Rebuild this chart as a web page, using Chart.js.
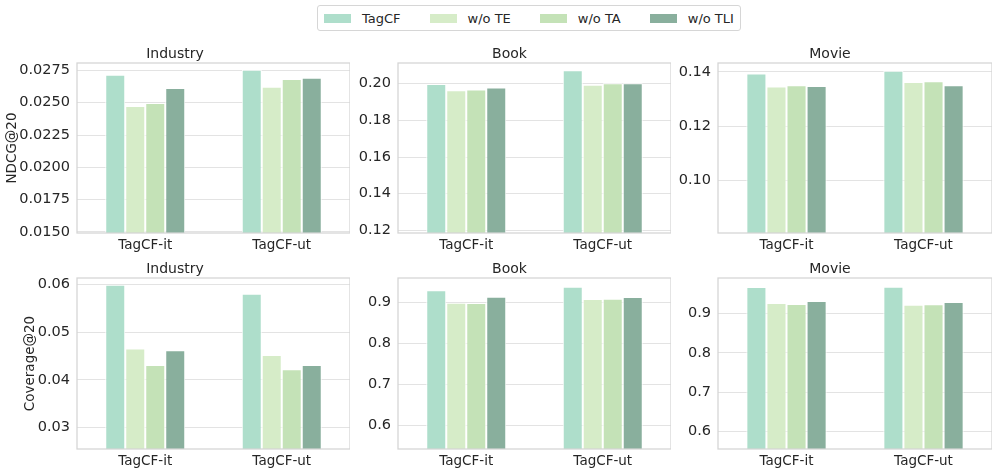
<!DOCTYPE html>
<html>
<head>
<meta charset="utf-8">
<script src="https://cdn.jsdelivr.net/npm/chart.js@4.4.1/dist/chart.umd.min.js"></script>
<style>
  body { margin: 0; background: #fff; font-family: "DejaVu Sans", sans-serif; }
  #wrap { position: relative; width: 997px; height: 476px; overflow: hidden; }
  .panel { position: absolute; }
  #legend { position: absolute; left: 317px; top: 5px; height: 24px; border: 1px solid #d6d6d6; border-radius: 3px;
            display: flex; align-items: center; padding: 0 6px 0 6px; font-size: 13px; color: #262626; }
  .item { display: flex; align-items: center; margin-right: 29px; }
  .item:last-child { margin-right: 0; }
  .patch { width: 27px; height: 9px; margin-right: 11px; }
</style>
</head>
<body>
<div id="wrap">
  <div id="legend"></div>
</div>
<script>
// data
const categories = ['TagCF-it', 'TagCF-ut'];
const seriesNames = ['TagCF', 'w/o TE', 'w/o TA', 'w/o TLI'];
const seriesColors = ['#aedecb', '#d6ecc8', '#c4e2b7', '#89af9d'];
const datasetNames = ['Industry', 'Book', 'Movie'];
const metricNames = ['NDCG@20', 'Coverage@20'];

// values per series: [TagCF-it, TagCF-ut]
const ndcgIndustry = [[0.02717, 0.02755], [0.02474, 0.02624], [0.02497, 0.02683], [0.02613, 0.02693]];
const ndcgBook     = [[0.1998, 0.2073], [0.1964, 0.1995], [0.1969, 0.2002], [0.1980, 0.2002]];
const ndcgMovie    = [[0.1394, 0.1405], [0.1346, 0.1363], [0.1351, 0.1366], [0.1348, 0.1351]];
const covIndustry  = [[0.0600, 0.0581], [0.0466, 0.0452], [0.0431, 0.0422], [0.0462, 0.0431]];
const covBook      = [[0.9293, 0.9382], [0.8992, 0.9081], [0.8984, 0.9089], [0.9138, 0.9130]];
const covMovie     = [[0.968, 0.9688], [0.9272, 0.9230], [0.9246, 0.9238], [0.9323, 0.9298]];

// tick labels
const ndcgIndustryTicks = [0.0150, 0.0175, 0.0200, 0.0225, 0.0250, 0.0275];
const ndcgBookTicks = [0.12, 0.14, 0.16, 0.18, 0.20];
const ndcgMovieTicks = [0.10, 0.12, 0.14];
const covIndustryTicks = [0.03, 0.04, 0.05, 0.06];
const covBookTicks = [0.6, 0.7, 0.8, 0.9];
const covMovieTicks = [0.6, 0.7, 0.8, 0.9];

// axis ranges
const ndcgIndustryRange = [0.01492, 0.02807];
const ndcgBookRange = [0.11855, 0.2113];
const ndcgMovieRange = [0.08055, 0.14332];
const covIndustryRange = [0.02544, 0.0614];
const covBookRange = [0.5423, 0.9593];
const covMovieRange = [0.555, 0.9909];

Chart.defaults.font.family = '"DejaVu Sans", sans-serif';
Chart.defaults.color = '#262626';

// legend
const legend = document.getElementById('legend');
seriesNames.forEach((n, i) => {
  const it = document.createElement('div');
  it.className = 'item';
  it.innerHTML = '<span class="patch" style="background:' + seriesColors[i] + '"></span><span>' + n + '</span>';
  legend.appendChild(it);
});

const boxPlugin = {
  id: 'box',
  afterDraw(chart) {
    const a = chart.chartArea, ctx = chart.ctx;
    ctx.save();
    ctx.strokeStyle = '#d4d4d4';
    ctx.lineWidth = 1.25;
    ctx.strokeRect(a.left, a.top, a.right - a.left, a.bottom - a.top);
    ctx.restore();
  }
};

const panels = [
  { row: 0, col: 0, values: ndcgIndustry, ticks: ndcgIndustryTicks, range: ndcgIndustryRange, dec: 4 },
  { row: 0, col: 1, values: ndcgBook, ticks: ndcgBookTicks, range: ndcgBookRange, dec: 2 },
  { row: 0, col: 2, values: ndcgMovie, ticks: ndcgMovieTicks, range: ndcgMovieRange, dec: 2 },
  { row: 1, col: 0, values: covIndustry, ticks: covIndustryTicks, range: covIndustryRange, dec: 2 },
  { row: 1, col: 1, values: covBook, ticks: covBookTicks, range: covBookRange, dec: 1 },
  { row: 1, col: 2, values: covMovie, ticks: covMovieTicks, range: covMovieRange, dec: 1 }
];

const plotLefts = [77, 398, 718];
const plotWidths = [273, 273, 274];
const plotTops = [63, 278];
const plotHeights = [170, 171];
const titleH = 20, xAxisH = 26;
const yTitlePad = [4, 22];

const wrap = document.getElementById('wrap');
panels.forEach(p => {
  const yW = p.col === 0 ? 77 : 50;
  const w = yW + plotWidths[p.col];
  const h = titleH + plotHeights[p.row] + xAxisH;
  const div = document.createElement('div');
  div.className = 'panel';
  div.style.left = (plotLefts[p.col] - yW) + 'px';
  div.style.top = (plotTops[p.row] - titleH) + 'px';
  div.style.width = w + 'px';
  div.style.height = h + 'px';
  const canvas = document.createElement('canvas');
  canvas.width = w; canvas.height = h;
  canvas.style.width = w + 'px'; canvas.style.height = h + 'px';
  div.appendChild(canvas);
  wrap.appendChild(div);

  new Chart(canvas, {
    type: 'bar',
    data: {
      labels: categories,
      datasets: seriesNames.map((n, i) => ({
        label: n,
        data: p.values[i],
        backgroundColor: seriesColors[i],
        borderColor: '#ffffff',
        borderWidth: 1,
        categoryPercentage: 0.586,
        barPercentage: 1.0
      }))
    },
    options: {
      responsive: false,
      animation: false,
      layout: { padding: 0 },
      plugins: {
        legend: { display: false },
        tooltip: { enabled: false },
        title: {
          display: true,
          text: datasetNames[p.col],
          font: { size: 14, weight: 'normal' },
          color: '#262626',
          padding: { top: 2.6, bottom: 0.6 }
        }
      },
      scales: {
        x: {
          grid: { display: false, drawTicks: false },
          border: { display: false },
          ticks: { font: { size: 13.5 }, padding: 4, color: '#262626' },
          afterFit(s) { s.height = xAxisH; }
        },
        y: {
          min: p.range[0],
          max: p.range[1],
          grid: { color: '#e3e3e3', lineWidth: 1, drawTicks: false },
          border: { display: false },
          ticks: {
            font: { size: 14.5 }, padding: 7, color: '#262626',
            callback: v => Number(v).toFixed(p.dec)
          },
          afterBuildTicks(s) { s.ticks = p.ticks.map(v => ({ value: v })); },
          afterFit(s) { s.width = yW; },
          title: {
            display: p.col === 0,
            text: metricNames[p.row],
            font: { size: 13.5 },
            color: '#262626',
            padding: { top: yTitlePad[p.row], bottom: 0 }
          }
        }
      }
    },
    plugins: [boxPlugin]
  });
});
</script>
</body>
</html>
